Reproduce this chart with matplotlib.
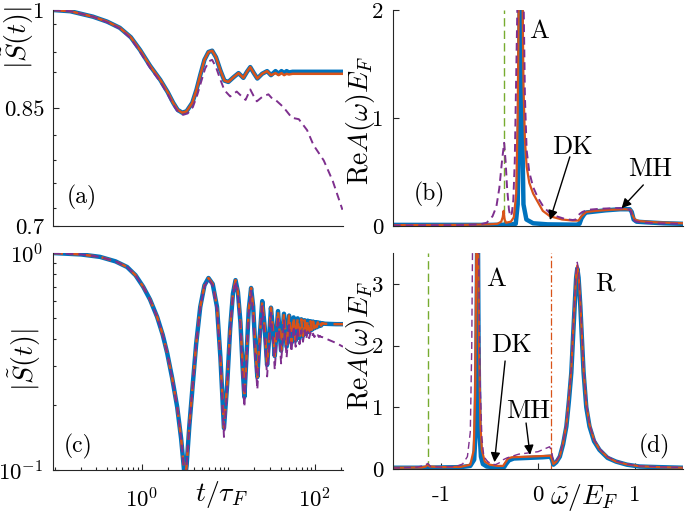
import numpy as np
import matplotlib
matplotlib.use('Agg')
import matplotlib.pyplot as plt
from matplotlib.ticker import FixedLocator, FixedFormatter, LogLocator, NullFormatter, NullLocator

# ================= Style ================= #
plt.rcParams.update({
    'font.family': 'cmr10',
    'mathtext.fontset': 'cm',
    'axes.unicode_minus': False,
    'axes.formatter.use_mathtext': True,
    'font.size': 16.5,
})
axcol = '#262626'
c_blue = '#0072BD'
c_orange = '#D95319'
c_purple = '#7E2F8E'
c_green = '#77AC30'

# ================= Data: panel (a) ================= #
ta = [0.095, 0.15, 0.275, 0.4, 0.56, 0.75, 0.96, 1.25, 1.64, 2.0, 2.31, 2.6, 2.94, 3.3, 3.84,
      4.3, 4.74, 5.3, 5.9, 6.5, 7.2, 8.1, 9.0, 10.0, 11.5, 13.1, 14.9, 16.4, 17.9, 19.7, 21.6,
      24.5, 28.0, 31.0, 35.0, 38.0, 41.0, 44.0, 47.0, 50.0, 55.0, 60.0, 80.0, 120.0, 210.0]
Sa_blue = [1.0, 0.998, 0.989, 0.981, 0.971, 0.956, 0.936, 0.912, 0.891, 0.873, 0.858, 0.848,
           0.844, 0.846, 0.858, 0.877, 0.898, 0.921, 0.933, 0.935, 0.925, 0.905, 0.890, 0.888,
           0.895, 0.901, 0.894, 0.903, 0.910, 0.901, 0.893, 0.900, 0.904, 0.898, 0.904, 0.900,
           0.904, 0.901, 0.904, 0.902, 0.903, 0.903, 0.903, 0.903, 0.903]
Sa_orange = [1.0, 0.998, 0.989, 0.981, 0.971, 0.956, 0.936, 0.912, 0.891, 0.873, 0.858, 0.848,
             0.844, 0.846, 0.858, 0.877, 0.898, 0.921, 0.933, 0.935, 0.925, 0.905, 0.890, 0.888,
             0.895, 0.901, 0.894, 0.903, 0.910, 0.901, 0.893, 0.900, 0.904, 0.898, 0.901, 0.898,
             0.901, 0.898, 0.900, 0.899, 0.900, 0.900, 0.900, 0.900, 0.900]
ta_purple = [0.095, 0.15, 0.275, 0.4, 0.56, 0.75, 0.96, 1.25, 1.64, 2.0, 2.31, 2.6, 3.0, 3.4,
             3.9, 4.4, 4.9, 5.4, 6.0, 6.5, 7.2, 8.0, 9.0, 10.5, 12.5, 14.0, 15.8, 17.9, 19.5,
             21.3, 25.0, 29.0, 32.0, 35.0, 43.0, 54.0, 65.0, 81.0, 96.0, 126.0, 160.0, 207.0]
Sa_purple = [1.0, 0.998, 0.989, 0.980, 0.970, 0.954, 0.933, 0.909, 0.888, 0.870, 0.855, 0.846,
             0.841, 0.843, 0.852, 0.870, 0.890, 0.908, 0.919, 0.921, 0.910, 0.893, 0.876, 0.867,
             0.874, 0.868, 0.862, 0.877, 0.868, 0.860, 0.867, 0.870, 0.864, 0.862, 0.852, 0.837,
             0.835, 0.820, 0.800, 0.780, 0.754, 0.719]
a_yticks = [0.7, 0.85, 1.0]
a_yticklabels = ['0.7', '0.85', '1']
a_yminor = [0.977, 0.933, 0.903, 0.813, 0.78, 0.751, 0.721]

# ================= Data: panel (c) ================= #
tc = [0.095, 0.2, 0.33, 0.5, 0.68, 0.85, 1.04, 1.25, 1.51, 1.75, 1.97, 2.25, 2.57, 2.85, 3.05,
      3.15, 3.3, 3.55, 3.84, 4.25, 4.74, 5.3, 5.9, 6.6, 7.4, 8.1, 8.9, 9.7, 10.5, 11.3, 12.1,
      12.9, 13.8, 14.6, 15.3, 16.1, 17.2, 18.3, 19.3, 20.4, 21.6, 22.9, 24.6, 26.2, 28.0, 29.5,
      31.0, 32.6, 34.3, 37.4, 40.6, 43.8, 47.0, 50.2, 53.4, 56.6, 59.8, 63.0, 66.2, 69.4, 72.6,
      75.8, 79.0, 82.2, 85.4, 88.6, 91.8, 95.0, 98.2, 101.4, 104.6, 107.8, 111.0, 114.2, 117.4,
      120.6, 130.0, 150.0, 175.0, 210.0]
Sc_blue = [1.0, 0.985, 0.96, 0.915, 0.862, 0.79, 0.70, 0.61, 0.507, 0.42,
           0.346, 0.265, 0.195, 0.14, 0.105, 0.09, 0.105, 0.16, 0.234, 0.38,
           0.564, 0.71, 0.767, 0.72, 0.564, 0.33, 0.156, 0.25, 0.45, 0.65,
           0.75, 0.66, 0.476, 0.30, 0.217, 0.32, 0.55, 0.69, 0.57, 0.38,
           0.268, 0.40, 0.60, 0.46, 0.305, 0.40, 0.56, 0.45, 0.335, 0.54,
           0.355, 0.525, 0.37, 0.515, 0.385, 0.505, 0.395, 0.50, 0.405, 0.495,
           0.415, 0.49, 0.425, 0.488, 0.435, 0.485, 0.443, 0.483, 0.45, 0.48,
           0.455, 0.479, 0.46, 0.477, 0.463, 0.475, 0.472, 0.471, 0.47, 0.47]
Sc_purple = [1.0, 0.985, 0.96, 0.915, 0.862, 0.79, 0.70, 0.61, 0.507, 0.42,
             0.346, 0.265, 0.195, 0.14, 0.105, 0.09, 0.105, 0.16, 0.234, 0.38,
             0.56, 0.70, 0.76, 0.71, 0.55, 0.32, 0.142, 0.24, 0.44, 0.64,
             0.74, 0.64, 0.45, 0.27, 0.195, 0.30, 0.53, 0.67, 0.53, 0.33,
             0.235, 0.37, 0.57, 0.41, 0.27, 0.37, 0.53, 0.41, 0.29, 0.51,
             0.31, 0.49, 0.33, 0.47, 0.35, 0.46, 0.37, 0.45, 0.38, 0.44,
             0.39, 0.44, 0.40, 0.435, 0.405, 0.43, 0.41, 0.425, 0.41, 0.42,
             0.41, 0.418, 0.41, 0.415, 0.41, 0.41, 0.405, 0.395, 0.385, 0.37]

# ================= Data: panel (b) ================= #
wb_blue = [-1.5, -1.0, -0.5, -0.3, -0.23, -0.21, -0.195, -0.185, -0.175, -0.165, -0.15, -0.12,
           -0.05, 0.1, 0.40, 0.43, 0.45, 0.48, 0.5, 0.6, 0.7, 0.85, 0.95, 0.97, 0.99, 1.02, 1.1,
           1.3, 1.5]
Ab_blue = [0.01, 0.01, 0.01, 0.012, 0.02, 0.2, 1.0, 3.0, 3.0, 1.0, 0.2, 0.06, 0.025, 0.015,
           0.012, 0.02, 0.07, 0.11, 0.125, 0.135, 0.145, 0.155, 0.155, 0.13, 0.06, 0.04, 0.035,
           0.025, 0.02]
wb_orange = [-1.5, -0.8, -0.5, -0.42, -0.38, -0.365, -0.355, -0.345, -0.33, -0.28, -0.25,
             -0.225, -0.21, -0.195, -0.18, -0.165, -0.158, -0.15, -0.135, -0.117, -0.09, -0.05,
             -0.013, 0.05, 0.124, 0.25, 0.36, 0.42, 0.45, 0.5, 0.6, 0.75, 0.9, 0.96, 0.98, 1.0,
             1.05, 1.2, 1.5]
Ab_orange = [0.008, 0.01, 0.015, 0.02, 0.04, 0.08, 0.14, 0.06, 0.03, 0.04, 0.08, 0.3, 1.0,
             2.5, 4.0, 3.0, 2.0, 1.3, 0.8, 0.55, 0.4, 0.3, 0.24, 0.14, 0.09, 0.06, 0.05, 0.05,
             0.09, 0.13, 0.14, 0.15, 0.155, 0.15, 0.1, 0.06, 0.045, 0.035, 0.025]
wb_purple = [-1.5, -0.8, -0.6, -0.53, -0.47, -0.43, -0.40, -0.37, -0.35, -0.335, -0.32, -0.30,
             -0.285, -0.27, -0.255, -0.24, -0.225, -0.21, -0.18, -0.15, -0.135, -0.117, -0.09,
             -0.05, 0.0, 0.055, 0.12, 0.19, 0.28, 0.36, 0.39, 0.41, 0.43, 0.46, 0.52, 0.65, 0.8,
             0.92, 0.96, 0.98, 1.0, 1.05, 1.2, 1.5]
Ab_purple = [0.005, 0.008, 0.015, 0.03, 0.09, 0.18, 0.35, 0.62, 0.77, 0.6, 0.36, 0.15, 0.09,
             0.12, 0.24, 0.6, 1.4, 2.2, 5.0, 2.2, 1.2, 0.70, 0.5, 0.36, 0.26, 0.18, 0.12, 0.09,
             0.065, 0.055, 0.06, 0.09, 0.11, 0.13, 0.15, 0.16, 0.165, 0.165, 0.14, 0.08, 0.045,
             0.035, 0.025, 0.02]
wb_green = -0.35

# ================= Data: panel (d) ================= #
wd_blue = [-1.5, -1.2, -1.0, -0.8, -0.7, -0.66, -0.645, -0.635, -0.625, -0.615, -0.605, -0.59,
           -0.57, -0.53, -0.45, -0.38, -0.35, -0.33, -0.30, -0.25, -0.1, 0.05, 0.13, 0.145, 0.16,
           0.19, 0.226, 0.26, 0.294, 0.32, 0.345, 0.365, 0.38, 0.395, 0.407, 0.42, 0.438, 0.455,
           0.472, 0.5, 0.533, 0.58, 0.636, 0.72, 0.807, 0.92, 1.05, 1.25, 1.5]
Ad_blue = [0.02, 0.02, 0.025, 0.03, 0.05, 0.15, 0.6, 2.0, 5.0, 2.0, 0.6, 0.2, 0.08, 0.04, 0.03,
           0.025, 0.03, 0.08, 0.14, 0.17, 0.18, 0.19, 0.2, 0.15, 0.07, 0.11, 0.2, 0.4, 0.69, 1.1,
           1.56, 2.2, 2.65, 3.1, 3.25, 3.1, 2.65, 2.1, 1.56, 1.0, 0.69, 0.45, 0.31, 0.18, 0.12,
           0.07, 0.04, 0.03, 0.02]
wd_orange = [-1.5, -1.2, -1.16, -1.14, -1.12, -1.0, -0.8, -0.7, -0.665, -0.65, -0.635, -0.625,
             -0.61, -0.595, -0.58, -0.55, -0.5, -0.42, -0.36, -0.34, -0.31, -0.27, -0.1, 0.05,
             0.13, 0.145, 0.16, 0.19, 0.226, 0.26, 0.294, 0.32, 0.345, 0.365, 0.38, 0.395, 0.407,
             0.42, 0.438, 0.455, 0.472, 0.5, 0.533, 0.58, 0.636, 0.72, 0.807, 0.92, 1.05, 1.25,
             1.5]
Ad_orange = [0.02, 0.025, 0.04, 0.07, 0.04, 0.03, 0.035, 0.07, 0.3, 1.2, 4.0, 5.0, 2.0, 0.7,
             0.3, 0.12, 0.07, 0.05, 0.05, 0.1, 0.17, 0.19, 0.2, 0.21, 0.215, 0.16, 0.08, 0.12,
             0.21, 0.42, 0.72, 1.15, 1.62, 2.25, 2.7, 3.15, 3.3, 3.15, 2.7, 2.15, 1.6, 1.05, 0.72,
             0.47, 0.32, 0.19, 0.12, 0.075, 0.045, 0.03, 0.02]
wd_purple = [-1.5, -1.25, -1.17, -1.14, -1.11, -1.0, -0.85, -0.78, -0.73, -0.70, -0.685,
             -0.675, -0.65, -0.625, -0.61, -0.60, -0.58, -0.56, -0.52, -0.48, -0.44, -0.40,
             -0.36, -0.32, -0.2, 0.0, 0.12, 0.14, 0.16, 0.19, 0.226, 0.26, 0.294, 0.32, 0.345,
             0.365, 0.38, 0.395, 0.407, 0.42, 0.438, 0.455, 0.472, 0.5, 0.533, 0.58, 0.636, 0.72,
             0.807, 0.92, 1.05, 1.25, 1.5]
Ad_purple = [0.015, 0.03, 0.06, 0.09, 0.04, 0.03, 0.04, 0.08, 0.2, 0.6, 2.0, 4.0, 5.0, 5.0,
             3.0, 1.5, 0.5, 0.2, 0.12, 0.08, 0.07, 0.1, 0.15, 0.18, 0.24, 0.28, 0.36, 0.3, 0.12,
             0.14, 0.22, 0.43, 0.73, 1.17, 1.64, 2.3, 2.75, 3.2, 3.35, 3.2, 2.75, 2.2, 1.64, 1.07,
             0.73, 0.48, 0.33, 0.2, 0.13, 0.08, 0.05, 0.035, 0.025]
wd_green = -1.14
wd_orange_line = 0.14
d_xticks = [-1, 0, 1]
d_xticklabels = ['-1', '0', '1']


# ================= Local functions ================= #
def style_axes(ax):
    for s in ['top', 'right']:
        ax.spines[s].set_visible(False)
    for s in ['left', 'bottom']:
        ax.spines[s].set_color(axcol)
        ax.spines[s].set_linewidth(0.8)
    ax.tick_params(which='both', direction='in', color=axcol, labelcolor='black', width=0.8)
    ax.tick_params(which='major', length=4)
    ax.tick_params(which='minor', length=2.5)


fig = plt.figure(figsize=(6.85, 5.13), dpi=100)
axa = fig.add_axes([0.0774, 0.5595, 0.4233, 0.4210])
axb = fig.add_axes([0.5737, 0.5595, 0.4233, 0.4210])
axc = fig.add_axes([0.0774, 0.0838, 0.4233, 0.4230])
axd = fig.add_axes([0.5737, 0.0858, 0.4233, 0.4210])

dash = (4, 2.5)
arrow = dict(arrowstyle='-|>', color='k', lw=1.0, mutation_scale=14, shrinkA=0, shrinkB=0)

# ---- (a) ----
axa.plot(ta, Sa_blue, color=c_blue, lw=3.2)
axa.plot(ta, Sa_orange, color=c_orange, lw=1.8)
axa.plot(ta_purple, Sa_purple, color=c_purple, lw=1.4, dashes=dash)
axa.set_xscale('log')
axa.set_yscale('log')
axa.set_xlim(0.095, 210)
axa.set_ylim(0.7, 1.0)
style_axes(axa)
axa.yaxis.set_major_locator(FixedLocator(a_yticks))
axa.yaxis.set_major_formatter(FixedFormatter(a_yticklabels))
axa.yaxis.set_minor_locator(FixedLocator(a_yminor))
axa.yaxis.set_minor_formatter(NullFormatter())
axa.xaxis.set_major_locator(NullLocator())
axa.xaxis.set_minor_locator(NullLocator())
axa.tick_params(axis='y', pad=6)
axa.set_ylabel(r'$|\tilde{S}(t)|$', fontsize=20)
axa.yaxis.set_label_coords(-0.06, 0.87)
axa.text(0.10, 0.134, '(a)', transform=axa.transAxes, ha='center', va='center', fontsize=17)

# ---- (c) ----
axc.plot(tc, Sc_blue, color=c_blue, lw=3.2)
axc.plot(tc, Sc_blue, color=c_orange, lw=1.8, dashes=dash)
axc.plot(tc, Sc_purple, color=c_purple, lw=1.4, dashes=dash)
axc.set_xscale('log')
axc.set_yscale('log')
axc.set_xlim(0.095, 210)
axc.set_ylim(0.1, 1.0)
style_axes(axc)
axc.xaxis.set_major_locator(FixedLocator([1, 100]))
axc.xaxis.set_minor_locator(LogLocator(base=10, subs=np.arange(1, 10), numticks=20))
axc.xaxis.set_minor_formatter(NullFormatter())
axc.yaxis.set_minor_locator(LogLocator(base=10, subs=np.arange(2, 10), numticks=20))
axc.yaxis.set_minor_formatter(NullFormatter())
axc.tick_params(axis='x', pad=12)
axc.tick_params(axis='y', pad=7)
axc.set_ylabel(r'$|\tilde{S}(t)|$', fontsize=20)
axc.yaxis.set_label_coords(-0.034, 0.507)
axc.set_xlabel(r'$t/\tau_F$', fontsize=20)
axc.xaxis.set_label_coords(0.58, -0.04)
axc.text(0.086, 0.11, '(c)', transform=axc.transAxes, ha='center', va='center', fontsize=17)

# ---- (b) ----
axb.axvline(wb_green, color=c_green, lw=1.0, dashes=(6, 3))
axb.plot(wb_blue, Ab_blue, color=c_blue, lw=3.2)
axb.plot(wb_orange, Ab_orange, color=c_orange, lw=1.6)
axb.plot(wb_purple, Ab_purple, color=c_purple, lw=1.4, dashes=dash)
axb.set_xlim(-1.5, 1.5)
axb.set_ylim(0, 2)
style_axes(axb)
axb.yaxis.set_major_locator(FixedLocator([0, 1, 2]))
axb.yaxis.set_major_formatter(FixedFormatter(['0', '1', '2']))
axb.xaxis.set_major_locator(NullLocator())
axb.tick_params(axis='y', pad=7)
axb.set_ylabel(r'$\mathrm{Re}A(\omega)E_F$', fontsize=20)
axb.yaxis.set_label_coords(-0.055, 0.49)
axb.text(0.124, 0.148, '(b)', transform=axb.transAxes, ha='center', va='center', fontsize=17)
axb.text(0.01, 1.80, 'A', ha='center', va='center', fontsize=19)
axb.annotate('', xy=(0.124, 0.055), xytext=(0.33, 0.64), arrowprops=arrow)
axb.text(0.36, 0.73, 'DK', ha='center', va='center', fontsize=19)
axb.annotate('', xy=(0.865, 0.164), xytext=(1.09, 0.38), arrowprops=arrow)
axb.text(1.16, 0.53, 'MH', ha='center', va='center', fontsize=19)

# ---- (d) ----
axd.axvline(wd_green, color=c_green, lw=1.0, dashes=(6, 3))
axd.axvline(wd_orange_line, color=c_orange, lw=0.9, dashes=(6, 2, 1.5, 2))
axd.plot(wd_blue, Ad_blue, color=c_blue, lw=3.2)
axd.plot(wd_orange, Ad_orange, color=c_orange, lw=1.6)
axd.plot(wd_purple, Ad_purple, color=c_purple, lw=1.0, dashes=(5, 3))
axd.set_xlim(-1.5, 1.5)
axd.set_ylim(0, 3.5)
style_axes(axd)
axd.yaxis.set_major_locator(FixedLocator([0, 1, 2, 3]))
axd.yaxis.set_major_formatter(FixedFormatter(['0', '1', '2', '3']))
axd.xaxis.set_major_locator(FixedLocator(d_xticks))
axd.xaxis.set_major_formatter(FixedFormatter(d_xticklabels))
axd.tick_params(axis='x', pad=12)
axd.tick_params(axis='y', pad=7)
axd.set_ylabel(r'$\mathrm{Re}A(\omega)E_F$', fontsize=20)
axd.yaxis.set_label_coords(-0.055, 0.574)
axd.set_xlabel(r'$\tilde{\omega}/E_F$', fontsize=20)
axd.xaxis.set_label_coords(0.66, -0.06)
axd.text(0.903, 0.106, '(d)', transform=axd.transAxes, ha='center', va='center', fontsize=17)
axd.text(-0.43, 3.08, 'A', ha='center', va='center', fontsize=19)
axd.text(0.69, 3.0, 'R', ha='center', va='center', fontsize=19)
axd.annotate('', xy=(-0.45, 0.11), xytext=(-0.34, 1.75), arrowprops=arrow)
axd.text(-0.27, 2.0, 'DK', ha='center', va='center', fontsize=19)
axd.annotate('', xy=(-0.082, 0.23), xytext=(-0.123, 0.745), arrowprops=arrow)
axd.text(-0.10, 0.93, 'MH', ha='center', va='center', fontsize=19)

fig.savefig('out.png', dpi=100)
